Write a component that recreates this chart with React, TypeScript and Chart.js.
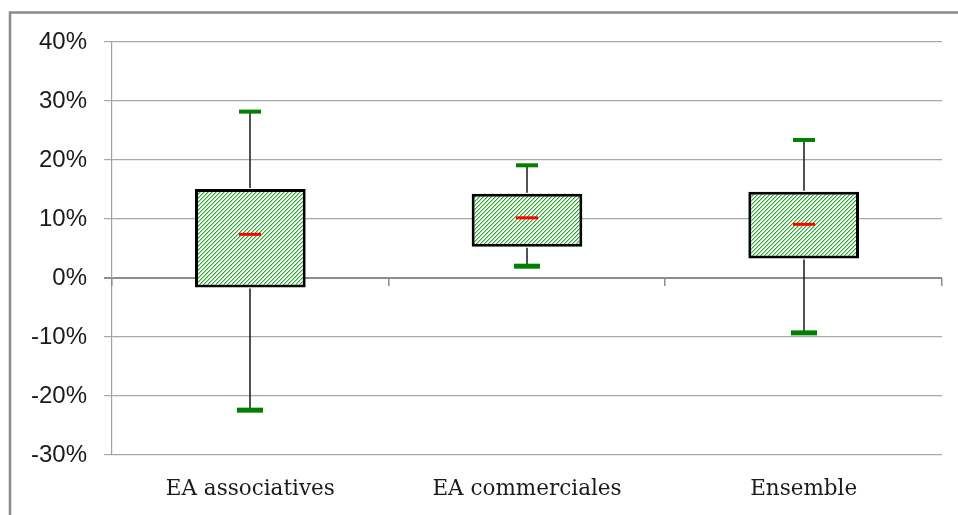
import { useEffect, useRef } from 'react';
import { Chart, registerables } from 'chart.js';
Chart.register(...registerables);

const categories = ['EA associatives', 'EA commerciales', 'Ensemble'];
const q1 = [-1.6, 5.3, 3.3];
const q3 = [15.1, 14.3, 14.6];
const medians = [7.4, 10.2, 9.1];
const mins = [-22.4, 2.0, -9.3];
const maxs = [28.2, 19.1, 23.4];
const yMin = -30;
const yMax = 40;
const yStep = 10;

function makePattern(): CanvasPattern | string {
  const c = document.createElement('canvas');
  c.width = 4;
  c.height = 4;
  const g = c.getContext('2d');
  if (!g) return '#cfe8cf';
  g.fillStyle = '#ffffff';
  g.fillRect(0, 0, 4, 4);
  for (let i = 0; i < 4; i++) {
    g.fillStyle = '#30a830';
    g.fillRect(i, 3 - i, 1, 1);
    g.fillStyle = '#98d898';
    g.fillRect((i + 1) % 4, 3 - i, 1, 1);
  }
  return g.createPattern(c, 'repeat') || '#cfe8cf';
}

const extrasPlugin = {
  id: 'boxExtras',
  beforeDraw(chart: any) {
    const ctx = chart.ctx;
    ctx.save();
    ctx.strokeStyle = '#8a8a8a';
    ctx.lineWidth = 2.5;
    ctx.strokeRect(10, 12.5, 1200, 800);
    ctx.restore();
  },
  beforeDatasetsDraw(chart: any) {
    const { ctx, scales } = chart;
    const x = scales.x;
    const y = scales.y;
    const y0 = Math.round(y.getPixelForValue(0));
    const n = categories.length;
    ctx.save();
    ctx.strokeStyle = '#8c8c8c';
    ctx.lineWidth = 1.5;
    for (let i = 0; i <= n; i++) {
      const bx = Math.round(x.left + (i * (x.right - x.left)) / n) - 0.25;
      ctx.beginPath();
      ctx.moveTo(bx, y0);
      ctx.lineTo(bx, y0 + 8);
      ctx.stroke();
    }
    ctx.restore();
  },
  afterDatasetsDraw(chart: any) {
    const { ctx, scales } = chart;
    const x = scales.x;
    const y = scales.y;
    ctx.save();
    categories.forEach((_, i) => {
      const cx = Math.round(x.getPixelForValue(i));
      const yTop = y.getPixelForValue(q3[i]);
      const yBot = y.getPixelForValue(q1[i]);
      const yMaxP = y.getPixelForValue(maxs[i]);
      const yMinP = y.getPixelForValue(mins[i]);
      const yMed = y.getPixelForValue(medians[i]);
      ctx.strokeStyle = '#262626';
      ctx.lineWidth = 1.6;
      ctx.beginPath();
      ctx.moveTo(cx, yTop - 1);
      ctx.lineTo(cx, yMaxP);
      ctx.moveTo(cx, yBot + 1);
      ctx.lineTo(cx, yMinP);
      ctx.stroke();
      ctx.fillStyle = '#008000';
      ctx.fillRect(cx - 11, yMaxP - 2, 22, 4);
      ctx.fillRect(cx - 13, yMinP - 2.5, 26, 5);
      ctx.fillStyle = '#ff0000';
      ctx.fillRect(cx - 11, yMed - 1.5, 22, 3);
    });
    ctx.restore();
  },
};

export default function App() {
  const ref = useRef<HTMLCanvasElement>(null);
  useEffect(() => {
    if (!ref.current) return;
    const pattern = makePattern();
    const chart = new Chart(ref.current, {
      type: 'bar',
      data: {
        labels: categories,
        datasets: [
          {
            data: categories.map((_, i) => [q1[i], q3[i]]) as any,
            backgroundColor: pattern as any,
            borderColor: '#000000',
            borderWidth: 3,
            borderSkipped: false,
            barPercentage: 0.4,
            categoryPercentage: 1,
          },
        ],
      },
      options: {
        responsive: false,
        animation: false,
        layout: { padding: { left: 10, top: 42, right: 16, bottom: 0 } },
        plugins: { legend: { display: false }, tooltip: { enabled: false } },
        scales: {
          x: {
            grid: { display: false, drawTicks: false },
            border: { display: false },
            ticks: {
              color: '#1a1a1a',
              font: { family: 'DejaVu Serif', size: 21.5 },
              padding: 22,
            },
            afterFit(scale: any) {
              scale.height = 60;
            },
          },
          y: {
            min: yMin,
            max: yMax,
            ticks: {
              stepSize: yStep,
              color: '#1a1a1a',
              font: { family: 'Liberation Sans', size: 24 },
              padding: 17,
              callback: (v: any) => `${v}%`,
            },
            grid: {
              color: (c: any) => (c.tick && c.tick.value === 0 ? '#8c8c8c' : '#a8a8a8'),
              lineWidth: (c: any) => (c.tick && c.tick.value === 0 ? 2 : 1.2),
              tickLength: 8,
            },
            border: { display: true, color: '#a0a0a0', width: 1.2 },
            afterFit(scale: any) {
              scale.width = 102;
            },
          },
        },
      },
      plugins: [extrasPlugin],
    });
    return () => chart.destroy();
  }, []);
  return (
    <div style={{ position: 'fixed', left: 0, top: 0, width: 958, height: 515, background: '#fff' }}>
      <canvas ref={ref} width={958} height={515} />
    </div>
  );
}
